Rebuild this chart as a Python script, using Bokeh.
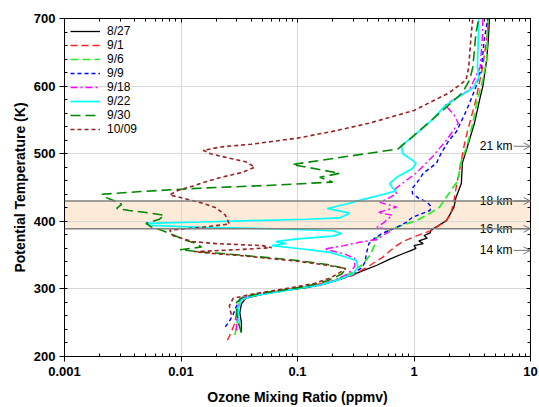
from bokeh.plotting import figure
from bokeh.models import (LogAxis, LinearAxis, FixedTicker, SingleIntervalTicker,
                          CustomJSTickFormatter, BoxAnnotation, Span, Arrow, OpenHead,
                          Legend, LegendItem, ColumnDataSource)
from bokeh.embed import file_html
from bokeh.resources import INLINE

# ---------------- data ----------------
dates = ["8/27", "9/1", "9/6", "9/9", "9/18", "9/22", "9/30", "10/09"]

th_0827 = [236, 250, 265, 278, 286, 292, 297, 302, 308, 315, 321, 328, 335, 344, 352, 357, 360, 364, 367, 371,
           375, 379, 383, 387, 392, 401, 411, 421, 436, 456, 486, 511, 545, 579, 600, 638, 670, 700]
o3_0827 = [0.033, 0.033, 0.032, 0.033, 0.036, 0.05, 0.075, 0.12, 0.177, 0.24, 0.3, 0.38, 0.48, 0.62, 0.8, 0.95,
           1.04, 1.0, 1.2, 1.1, 1.3, 1.22, 1.38, 1.4, 1.56, 1.9, 2.05, 2.2, 2.3, 2.55, 2.6, 2.88, 3.3, 3.65, 3.9,
           4.2, 4.35, 4.45]

th_0901 = [224, 236, 250, 265, 280, 288, 294, 299, 304, 310, 320, 335, 347, 356, 364, 370, 376, 382, 387, 394,
           401, 415, 430, 450, 490, 520, 580, 630, 670, 700]
o3_0901 = [0.025, 0.027, 0.029, 0.03, 0.032, 0.038, 0.055, 0.08, 0.12, 0.19, 0.3, 0.42, 0.54, 0.62, 0.71, 0.8,
           0.97, 1.2, 1.43, 1.65, 1.9, 2.1, 2.2, 2.3, 2.55, 2.75, 3.4, 3.9, 4.2, 4.4]

th_0906 = [232, 245, 260, 275, 285, 291, 296, 301, 306, 314, 325, 338, 350, 365, 376, 383, 389, 395, 401, 411,
           421, 436, 461, 485, 511, 545, 579, 610, 638, 700]
o3_0906 = [0.029, 0.03, 0.031, 0.031, 0.033, 0.045, 0.07, 0.1, 0.16, 0.22, 0.3, 0.37, 0.42, 0.46, 0.48, 0.55,
           0.65, 0.82, 1.05, 1.35, 1.66, 1.9, 2.4, 2.5, 2.85, 3.2, 3.5, 3.9, 4.2, 4.3]

th_0909 = [244, 252, 262, 275, 285, 291, 296, 300, 305, 313, 322, 332, 340, 352, 367, 375, 382, 391, 398, 406,
           416, 422, 428, 434, 441, 448, 461, 471, 486, 500, 520, 532, 545, 560, 575, 599, 628, 668, 700]
o3_0909 = [0.024, 0.026, 0.028, 0.03, 0.032, 0.042, 0.065, 0.09, 0.15, 0.22, 0.3, 0.36, 0.38, 0.39, 0.41, 0.46,
           0.53, 0.71, 0.85, 0.97, 1.37, 1.4, 1.3, 1.1, 0.97, 0.96, 1.1, 1.2, 1.56, 1.7, 2.0, 2.3, 2.5, 2.75, 3.0,
           3.4, 3.8, 4.0, 4.3]

th_0918 = [238, 250, 262, 275, 286, 292, 297, 301, 306, 313, 322, 333, 345, 352, 356, 359, 364, 369, 373, 380,
           387, 391, 398, 409, 413, 421, 428, 434, 441, 447, 460, 471, 495, 520, 545, 558, 572, 584, 595, 628,
           670, 700]
o3_0918 = [0.03, 0.03, 0.03, 0.031, 0.033, 0.045, 0.07, 0.1, 0.15, 0.21, 0.27, 0.31, 0.31, 0.25, 0.2, 0.17, 0.25,
           0.34, 0.48, 0.55, 0.65, 0.48, 0.55, 0.65, 0.49, 0.71, 0.51, 0.6, 0.71, 0.68, 0.85, 1.04, 1.43, 1.9,
           2.4, 2.2, 1.85, 2.4, 3.0, 3.7, 3.85, 3.9]

th_0922 = [245, 258, 272, 284, 290, 295, 300, 305, 313, 322, 332, 342, 348, 354, 359, 364, 367, 370, 374, 378,
           382, 386, 389, 391, 394, 397, 399, 401, 403, 405, 412, 419, 426, 432, 440, 445, 450, 456, 465, 478,
           486, 493, 500, 512, 525, 550, 569, 584, 597, 613, 628, 660, 700]
o3_0922 = [0.032, 0.031, 0.031, 0.033, 0.042, 0.065, 0.095, 0.15, 0.22, 0.3, 0.33, 0.32, 0.25, 0.19, 0.11, 0.06,
           0.08, 0.065, 0.1, 0.2, 0.24, 0.2, 0.06, 0.015, 0.0055, 0.005, 0.015, 0.04, 0.12, 0.23, 0.28, 0.18,
           0.27, 0.36, 0.55, 0.7, 0.65, 0.62, 0.71, 0.97, 1.04, 0.92, 0.8, 0.78, 0.97, 1.43, 1.8, 2.4, 3.2, 3.6,
           3.5, 3.55, 3.6]

th_0930 = [235, 250, 265, 280, 288, 294, 299, 304, 312, 322, 330, 336, 342, 347, 351, 354, 358, 362, 367, 372,
           380, 386, 392, 397, 403, 409, 413, 416, 419, 425, 431, 436, 440, 444, 449, 453, 458, 465, 471, 477,
           484, 507, 525, 569, 590, 609, 628, 678, 700]
o3_0930 = [0.033, 0.031, 0.03, 0.03, 0.034, 0.05, 0.08, 0.12, 0.18, 0.24, 0.26, 0.18, 0.1, 0.05, 0.028, 0.0165,
           0.0098, 0.015, 0.0135, 0.011, 0.0085, 0.007, 0.0055, 0.005, 0.0065, 0.0072, 0.005, 0.0036, 0.0028,
           0.0031, 0.0026, 0.0022, 0.0021, 0.0045, 0.0145, 0.054, 0.2, 0.155, 0.23, 0.15, 0.09, 0.73, 0.97, 1.9,
           2.6, 3.0, 3.2, 3.4, 3.6]

th_1009 = [262, 275, 286, 292, 297, 302, 308, 316, 324, 330, 335, 341, 346, 350, 352, 355, 358, 361, 364, 367,
           370, 379, 387, 391, 396, 403, 409, 420, 428, 434, 439, 446, 452, 458, 465, 472, 480, 488, 494, 500,
           505, 510, 514, 518, 523, 533, 545, 564, 590, 609, 628, 678, 700]
o3_1009 = [0.027, 0.026, 0.028, 0.04, 0.06, 0.09, 0.14, 0.19, 0.23, 0.26, 0.18, 0.1, 0.05, 0.03, 0.02, 0.013,
           0.03, 0.06, 0.05, 0.02, 0.0125, 0.0085, 0.008, 0.015, 0.026, 0.025, 0.024, 0.02, 0.0145, 0.0105,
           0.008, 0.0095, 0.0125, 0.016, 0.022, 0.033, 0.043, 0.036, 0.025, 0.018, 0.0155, 0.022, 0.04, 0.06,
           0.1, 0.2, 0.41, 1.0, 2.0, 2.8, 2.95, 3.1, 3.2]

band_theta = [389, 430]
km_labels = ["21 km", "18 km", "16 km", "14 km"]
km_theta = [511, 430, 389, 357]

x_major = [0.001, 0.01, 0.1, 1, 10]
x_minor = [m * 10.0 ** e for e in range(-3, 1) for m in range(2, 10)]

# ---------------- styles ----------------
FONT = "Liberation Sans"
styles = [
    dict(color="#000000", line_width=1.3, line_dash="solid"),
    dict(color="#ff2020", line_width=1.4, line_dash="7 4"),
    dict(color="#22ee22", line_width=1.7, line_dash="8 4"),
    dict(color="#0000ff", line_width=1.4, line_dash="4 3"),
    dict(color="#ff00ff", line_width=1.4, line_dash="7 3 2 3"),
    dict(color="#00ffff", line_width=1.7, line_dash="solid"),
    dict(color="#008800", line_width=1.6, line_dash="10 5"),
    dict(color="#992222", line_width=1.6, line_dash="4 3"),
]

p = figure(frame_width=466, frame_height=338, x_axis_type="log", x_range=(0.001, 10), y_range=(200, 700),
           output_backend="svg", toolbar_location=None,
           min_border_left=50, min_border_right=8, min_border_top=10, min_border_bottom=43)
p.margin = (8, 0, 0, 8)
p.outline_line_color = "black"
p.outline_line_width = 1

xt = FixedTicker(ticks=x_major, minor_ticks=x_minor)
yt = SingleIntervalTicker(interval=100, num_minor_ticks=5)
fmt = CustomJSTickFormatter(code="return tick.toString();")
blank = CustomJSTickFormatter(code="return '';")

xa = p.xaxis[0]
xa.ticker = xt
xa.formatter = fmt
ya = p.yaxis[0]
ya.ticker = yt
for ax in (xa, ya):
    ax.major_tick_out = 5
    ax.major_tick_in = 0
    ax.minor_tick_in = 3
    ax.minor_tick_out = 0
    ax.axis_line_color = "black"
    ax.major_tick_line_color = "black"
    ax.minor_tick_line_color = "black"
    ax.major_label_text_font = FONT
    ax.major_label_text_font_style = "bold"
    ax.major_label_text_font_size = "13px"
    ax.major_label_text_color = "black"
    ax.axis_label_text_font = FONT
    ax.axis_label_text_font_style = "bold"
    ax.axis_label_text_font_size = "14px"
    ax.axis_label_text_color = "black"
xa.axis_label = "Ozone Mixing Ratio (ppmv)"
ya.axis_label = "Potential Temperature (K)"
xa.major_label_standoff = 5
ya.major_label_standoff = 4
xa.axis_label_standoff = 10
ya.axis_label_standoff = 3

top = LogAxis(ticker=xt, formatter=blank, major_label_text_font_size="1px", major_label_standoff=0,
              major_tick_in=4, major_tick_out=0, minor_tick_in=3, minor_tick_out=0)
right = LinearAxis(ticker=yt, formatter=blank, major_label_text_font_size="1px", major_label_standoff=6,
                   major_tick_in=4, major_tick_out=0, minor_tick_in=3, minor_tick_out=0)
p.add_layout(top, "above")
p.add_layout(right, "right")

p.xgrid.ticker = FixedTicker(ticks=x_major)
p.xgrid.grid_line_color = "#d9d9d9"
p.ygrid.grid_line_color = "#d9d9d9"

band = BoxAnnotation(bottom=band_theta[0], top=band_theta[1], fill_color="#fdebd9", fill_alpha=1,
                     line_alpha=0, level="image")
p.add_layout(band)
for t in band_theta:
    p.add_layout(Span(location=t, dimension="width", line_color="#808080", line_width=1.5))

series = [(o3_0827, th_0827), (o3_0901, th_0901), (o3_0906, th_0906), (o3_0909, th_0909),
          (o3_0918, th_0918), (o3_0922, th_0922), (o3_0930, th_0930), (o3_1009, th_1009)]
items = []
for (xs, ys), lab, st in zip(series, dates, styles):
    r = p.line(xs, ys, line_color=st["color"], line_width=st["line_width"], line_dash=st["line_dash"])
    items.append(LegendItem(label=lab, renderers=[r]))

legend = Legend(items=items, location="top_left", margin=0, padding=6, spacing=0,
                glyph_width=30, glyph_height=12, label_height=12, label_standoff=7,
                label_text_font=FONT, label_text_font_size="12px", label_text_color="black",
                background_fill_alpha=0, border_line_alpha=0)
p.add_layout(legend, "center")

km_src = ColumnDataSource(dict(x=[7.0] * len(km_theta), x0=[7.2] * len(km_theta),
                               x1=[10.0] * len(km_theta), y=km_theta, t=km_labels))
p.text(x="x", y="y", text="t", source=km_src, text_align="right", text_baseline="middle",
       text_font_size="12px", text_font={"value": FONT}, text_color="black")
p.add_layout(Arrow(end=OpenHead(size=7, line_color="#777777", line_width=1),
                   x_start="x0", y_start="y", x_end="x1", y_end="y", source=km_src,
                   line_color="#777777", line_width=1))

open("out.html", "w").write(file_html(p, INLINE))
